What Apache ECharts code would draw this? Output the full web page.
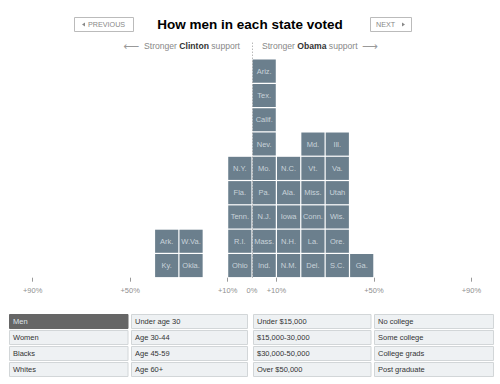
<!DOCTYPE html>
<html>
<head>
<meta charset="utf-8">
<script src="https://cdn.jsdelivr.net/npm/echarts@6/dist/echarts.min.js"></script>
<style>
html,body{margin:0;padding:0;background:#fff;}
#chart{width:500px;height:384px;}
</style>
</head>
<body>
<div id="chart"></div>
<script>
// ---- Data ----
const titleText = "How men in each state voted";
// Margin bins (in %, negative = stronger Clinton support, positive = stronger Obama support)
const binLeft = [-40, -30, -10, 0, 10, 20, 30, 40];
const binWidth = 10;
// States in each bin, listed from bottom to top
const binM40 = ["Ky.", "Ark."];
const binM30 = ["Okla.", "W.Va."];
const binM10 = ["Ohio", "R.I.", "Tenn.", "Fla.", "N.Y."];
const binP0  = ["Ind.", "Mass.", "N.J.", "Pa.", "Mo.", "Nev.", "Calif.", "Tex.", "Ariz."];
const binP10 = ["N.M.", "N.H.", "Iowa", "Ala.", "N.C."];
const binP20 = ["Del.", "La.", "Conn.", "Miss.", "Vt.", "Md."];
const binP30 = ["S.C.", "Ore.", "Wis.", "Utah", "Va.", "Ill."];
const binP40 = ["Ga."];
const binStates = [binM40, binM30, binM10, binP0, binP10, binP20, binP30, binP40];

const tickValues = [-90, -50, -10, 10, 50, 90];
const labelValues = [-90, -50, -10, 0, 10, 50, 90];
const tickLabels = ["+90%", "+50%", "+10%", "0%", "+10%", "+50%", "+90%"];

const tableCol1 = ["Men", "Women", "Blacks", "Whites"];
const tableCol2 = ["Under age 30", "Age 30-44", "Age 45-59", "Age 60+"];
const tableCol3 = ["Under $15,000", "$15,000-30,000", "$30,000-50,000", "Over $50,000"];
const tableCol4 = ["No college", "Some college", "College grads", "Post graduate"];
const tableCols = [tableCol1, tableCol2, tableCol3, tableCol4];
const selectedCell = "Men";

// ---- Build ----
const FONT = '"Liberation Sans", Arial, Helvetica, sans-serif';
const cellData = [];
binStates.forEach((list, i) => {
  list.forEach((name, row) => {
    cellData.push([binLeft[i], binLeft[i] + binWidth, row, name]);
  });
});

const chart = echarts.init(document.getElementById('chart'), null, {renderer: 'svg'});

const graphics = [];
// Title
graphics.push({type:'text', left:'center', top:17, style:{text:titleText, font:'bold 13.5px ' + FONT, fill:'#000'}});
// Buttons
graphics.push({type:'rect', shape:{x:74.5, y:17.5, width:59, height:14}, style:{fill:'#fff', stroke:'#bbb', lineWidth:1}});
graphics.push({type:'polygon', shape:{points:[[82,24.5],[85,22.5],[85,26.5]]}, style:{fill:'#888'}});
graphics.push({type:'text', x:88, y:24.5, style:{text:'PREVIOUS', font:'7.2px ' + FONT, fill:'#888', verticalAlign:'middle'}});
graphics.push({type:'rect', shape:{x:370.5, y:17.5, width:41, height:14}, style:{fill:'#fff', stroke:'#bbb', lineWidth:1}});
graphics.push({type:'text', x:376, y:24.5, style:{text:'NEXT', font:'7.2px ' + FONT, fill:'#888', verticalAlign:'middle'}});
graphics.push({type:'polygon', shape:{points:[[402,22.5],[405,24.5],[402,26.5]]}, style:{fill:'#888'}});
// Subtitle
graphics.push({type:'text', x:240, y:46, style:{
  text:'{a|⟵}  Stronger {b|Clinton} support', align:'right', verticalAlign:'middle',
  font:'8.6px ' + FONT, fill:'#888',
  rich:{a:{fontFamily:'DejaVu Sans', fontSize:11, fill:'#999'}, b:{fontWeight:'bold', fill:'#333', fontSize:8.6, fontFamily:FONT}}
}});
graphics.push({type:'text', x:262, y:46, style:{
  text:'Stronger {b|Obama} support  {a|⟶}', align:'left', verticalAlign:'middle',
  font:'8.6px ' + FONT, fill:'#888',
  rich:{a:{fontFamily:'DejaVu Sans', fontSize:11, fill:'#999'}, b:{fontWeight:'bold', fill:'#333', fontSize:8.6, fontFamily:FONT}}
}});
// Table
const colX = [9, 131, 253, 374];
const colW = [118.5, 116, 117.5, 119];
const rowY = [314, 330, 346, 362];
tableCols.forEach((col, ci) => {
  col.forEach((txt, ri) => {
    const sel = txt === selectedCell;
    graphics.push({type:'rect', shape:{x:colX[ci] + 0.5, y:rowY[ri] + 0.5, width:colW[ci], height:14},
      style:{fill: sel ? '#666' : '#eef1f3', stroke: sel ? '#666' : '#d2d6d8', lineWidth:1}});
    graphics.push({type:'text', x:colX[ci] + 4, y:rowY[ri] + 7.5,
      style:{text:txt, font:'7.5px ' + FONT, fill: sel ? '#dfe4ea' : '#333', verticalAlign:'middle'}});
  });
});

const option = {
  animation: false,
  backgroundColor: '#fff',
  grid: {left: 8.25, right: 4.25, top: 40.8, bottom: 106.3, containLabel: false},
  xAxis: {
    type: 'value', min: -100, max: 100,
    axisLine: {show: false},
    splitLine: {show: false},
    axisTick: {show: true, customValues: tickValues, length: 4, lineStyle: {color: '#999'}},
    axisLabel: {
      show: true, customValues: labelValues, margin: 9,
      fontSize: 7.5, fontFamily: FONT, color: '#8f8f8f',
      formatter: v => tickLabels[labelValues.indexOf(v)]
    }
  },
  yAxis: {type: 'value', min: 0, max: 9.75, show: false},
  series: [{
    type: 'custom',
    data: cellData,
    renderItem: (params, api) => {
      const p0 = api.coord([api.value(0), api.value(2) + 1]);
      const p1 = api.coord([api.value(1), api.value(2)]);
      const inset = 0.6;
      return {
        type: 'group',
        children: [{
          type: 'rect',
          shape: {x: p0[0] + inset, y: p0[1] + inset, width: p1[0] - p0[0] - 2 * inset, height: p1[1] - p0[1] - 2 * inset},
          style: {fill: '#6b7f8d'}
        }, {
          type: 'text',
          x: (p0[0] + p1[0]) / 2, y: (p0[1] + p1[1]) / 2,
          style: {text: cellData[params.dataIndex][3], align: 'center', verticalAlign: 'middle',
            font: '7.5px ' + FONT, fill: '#c9d3da'}
        }]
      };
    },
    markLine: {
      silent: true, symbol: ['none', 'none'], label: {show: false},
      lineStyle: {type: [1, 2], color: '#999', width: 1},
      data: [{xAxis: 0}]
    },
    z: 2
  }],
  graphic: graphics
};
chart.setOption(option);
</script>
</body>
</html>
